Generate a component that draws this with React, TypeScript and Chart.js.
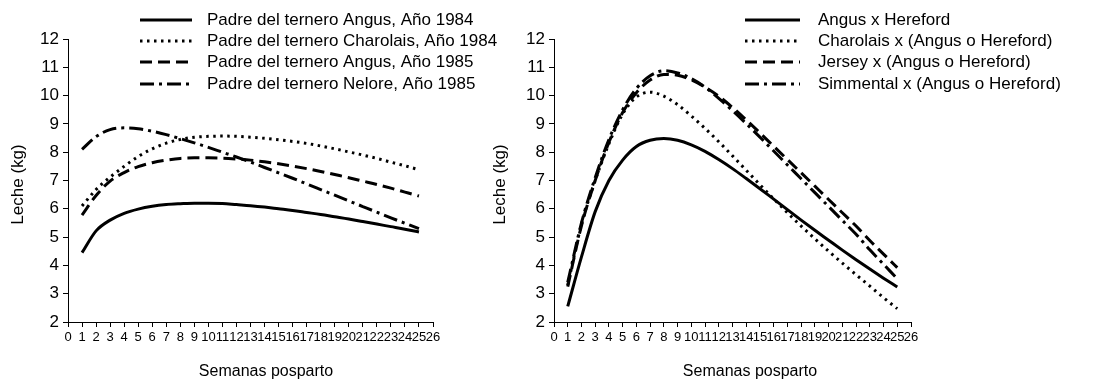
import React, { useEffect, useRef } from "react";
import { Chart, registerables } from "chart.js";

Chart.register(...registerables);

// ---------- data ----------
const weeks = [1, 2, 3, 4, 5, 6, 7, 8, 9, 10, 11, 12, 13, 14, 15, 16, 17, 18, 19, 20, 21, 22, 23, 24, 25];

const leftLabels = [
  "Padre del ternero Angus, Año 1984",
  "Padre del ternero Charolais, Año 1984",
  "Padre del ternero Angus, Año 1985",
  "Padre del ternero Nelore, Año 1985",
];
const angus1984 = [4.45, 5.22, 5.6, 5.84, 5.99, 6.09, 6.15, 6.18, 6.2, 6.2, 6.19, 6.15, 6.11, 6.06, 6.0, 5.94, 5.87, 5.8, 5.72, 5.64, 5.55, 5.46, 5.37, 5.28, 5.18];
const charolais1984 = [6.1, 6.68, 7.12, 7.5, 7.85, 8.12, 8.32, 8.45, 8.53, 8.56, 8.57, 8.56, 8.53, 8.49, 8.44, 8.38, 8.31, 8.22, 8.12, 8.01, 7.9, 7.78, 7.65, 7.52, 7.38];
const angus1985 = [5.78, 6.47, 6.98, 7.28, 7.49, 7.63, 7.72, 7.78, 7.8, 7.8, 7.79, 7.76, 7.72, 7.66, 7.59, 7.51, 7.42, 7.32, 7.21, 7.1, 6.98, 6.86, 6.73, 6.59, 6.45];
const nelore1985 = [8.1, 8.55, 8.8, 8.86, 8.83, 8.74, 8.62, 8.48, 8.33, 8.17, 8.0, 7.83, 7.65, 7.46, 7.27, 7.08, 6.88, 6.68, 6.48, 6.28, 6.08, 5.88, 5.68, 5.49, 5.3];

const rightLabels = [
  "Angus x Hereford",
  "Charolais x (Angus o Hereford)",
  "Jersey x (Angus o Hereford)",
  "Simmental x (Angus o Hereford)",
];
const angusHereford = [2.55, 4.3, 5.9, 7.0, 7.72, 8.2, 8.42, 8.48, 8.42, 8.26, 8.03, 7.74, 7.42, 7.07, 6.71, 6.34, 5.97, 5.6, 5.24, 4.89, 4.54, 4.2, 3.87, 3.55, 3.24];
const charolaisX = [3.3, 5.45, 7.0, 8.3, 9.35, 9.95, 10.12, 9.98, 9.68, 9.28, 8.84, 8.37, 7.87, 7.36, 6.85, 6.35, 5.86, 5.39, 4.94, 4.5, 4.08, 3.67, 3.27, 2.86, 2.47];
const jerseyX = [3.25, 5.4, 7.0, 8.35, 9.4, 10.1, 10.55, 10.75, 10.72, 10.56, 10.3, 9.98, 9.58, 9.14, 8.68, 8.21, 7.74, 7.27, 6.8, 6.33, 5.86, 5.39, 4.88, 4.4, 3.92];
const simmentalX = [3.4, 5.5, 7.1, 8.45, 9.5, 10.25, 10.7, 10.88, 10.8, 10.6, 10.3, 9.9, 9.47, 9.01, 8.53, 8.04, 7.55, 7.06, 6.57, 6.08, 5.59, 5.1, 4.55, 4.04, 3.53];

const xTickValues = [0, 1, 2, 3, 4, 5, 6, 7, 8, 9, 10, 11, 12, 13, 14, 15, 16, 17, 18, 19, 20, 21, 22, 23, 24, 25, 26];
const yTickValues = [2, 3, 4, 5, 6, 7, 8, 9, 10, 11, 12];
const yTitle = "Leche (kg)";
const xTitle = "Semanas posparto";

// ---------- styles ----------
const FONT = "'Liberation Sans', Arial, sans-serif";
const dashStyles: number[][] = [[], [2.5, 4.5], [12, 6], [14, 5, 3, 5]];

type LegendCfg = { lineX1: number; lineX2: number; textX: number; rowY: number[] };

function makeChart(
  canvas: HTMLCanvasElement,
  labels: string[],
  series: number[][],
  legend: LegendCfg,
  padRight: number,
  yTitleX: number,
  xTitleX: number
) {
  const datasets = series.map((vals, i) => ({
    label: labels[i],
    data: weeks.map((w, j) => ({ x: w, y: vals[j] })),
    borderColor: "#000",
    borderWidth: 3,
    borderDash: dashStyles[i],
    pointRadius: 0,
    fill: false,
    cubicInterpolationMode: "monotone" as const,
  }));

  const overlay = {
    id: "overlay",
    afterDraw(chart: any) {
      const ctx = chart.ctx as CanvasRenderingContext2D;
      const area = chart.chartArea;
      ctx.save();
      ctx.font = `17px ${FONT}`;
      ctx.fillStyle = "#000";
      ctx.textBaseline = "middle";
      ctx.textAlign = "left";
      chart.data.datasets.forEach((ds: any, i: number) => {
        const y = legend.rowY[i];
        ctx.save();
        ctx.strokeStyle = "#000";
        ctx.lineWidth = 3;
        ctx.setLineDash(ds.borderDash || []);
        ctx.beginPath();
        ctx.moveTo(legend.lineX1, y);
        ctx.lineTo(legend.lineX2, y);
        ctx.stroke();
        ctx.restore();
        ctx.fillText(ds.label, legend.textX, y);
      });
      ctx.font = `16px ${FONT}`;
      ctx.textAlign = "center";
      ctx.textBaseline = "middle";
      ctx.fillText(xTitle, xTitleX, 372);
      ctx.font = `17px ${FONT}`;
      ctx.save();
      ctx.translate(yTitleX, (area.top + area.bottom) / 2 + 4);
      ctx.rotate(-Math.PI / 2);
      ctx.fillText(yTitle, 0, 0);
      ctx.restore();
      ctx.restore();
    },
  };

  return new Chart(canvas, {
    type: "line",
    data: { datasets },
    plugins: [overlay],
    options: {
      animation: false,
      responsive: false,
      maintainAspectRatio: false,
      layout: { padding: { left: 0, top: 39, right: padRight, bottom: 0 } },
      plugins: { legend: { display: false }, tooltip: { enabled: false }, title: { display: false } },
      scales: {
        x: {
          type: "linear",
          min: 0,
          max: 26,
          afterBuildTicks: (s: any) => {
            s.ticks = xTickValues.map((v) => ({ value: v }));
          },
          afterFit: (s: any) => {
            s.height = 61;
          },
          ticks: {
            autoSkip: false,
            maxRotation: 0,
            minRotation: 0,
            padding: 3,
            color: "#000",
            font: { family: FONT, size: 13 },
          },
          grid: { drawOnChartArea: false, drawTicks: true, tickLength: 5, color: "#000" },
          border: { display: true, color: "#000", width: 1 },
        },
        y: {
          type: "linear",
          min: 2,
          max: 12,
          afterBuildTicks: (s: any) => {
            s.ticks = yTickValues.map((v) => ({ value: v }));
          },
          afterFit: (s: any) => {
            s.width = 68;
          },
          ticks: {
            padding: 4,
            color: "#000",
            font: { family: FONT, size: 17 },
          },
          grid: { drawOnChartArea: false, drawTicks: true, tickLength: 5, color: "#000" },
          border: { display: true, color: "#000", width: 1 },
        },
      },
    },
  });
}

export default function App() {
  const leftRef = useRef<HTMLCanvasElement>(null);
  const rightRef = useRef<HTMLCanvasElement>(null);

  useEffect(() => {
    const c1 = makeChart(
      leftRef.current!,
      leftLabels,
      [angus1984, charolais1984, angus1985, nelore1985],
      { lineX1: 140, lineX2: 192, textX: 207, rowY: [20, 41, 62, 84] },
      545 - 433,
      18,
      266
    );
    const c2 = makeChart(
      rightRef.current!,
      rightLabels,
      [angusHereford, charolaisX, jerseyX, simmentalX],
      { lineX1: 745 - 486, lineX2: 800 - 486, textX: 818 - 486, rowY: [20, 41, 62, 84] },
      629 - 425,
      500 - 486,
      750 - 486
    );
    return () => {
      c1.destroy();
      c2.destroy();
    };
  }, []);

  return (
    <div style={{ position: "absolute", left: 0, top: 0, width: 1115, height: 383, background: "#fff" }}>
      <canvas ref={leftRef} width={545} height={383} style={{ position: "absolute", left: 0, top: 0, width: 545, height: 383 }} />
      <canvas ref={rightRef} width={629} height={383} style={{ position: "absolute", left: 486, top: 0, width: 629, height: 383 }} />
    </div>
  );
}
